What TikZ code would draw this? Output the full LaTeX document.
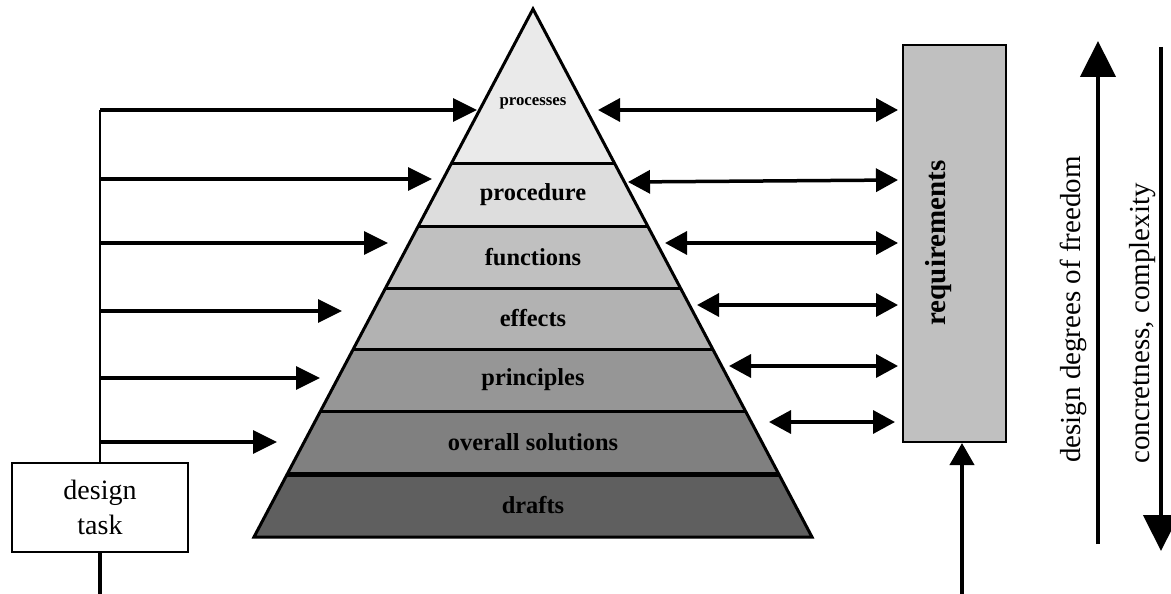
\documentclass[tikz,border=0pt]{standalone}
\usepackage{fontspec}
\setmainfont{Liberation Serif}
\usetikzlibrary{arrows.meta}
\definecolor{cA}{HTML}{EAEAEA}
\definecolor{cB}{HTML}{DDDDDD}
\definecolor{cC}{HTML}{C0C0C0}
\definecolor{cD}{HTML}{B2B2B2}
\definecolor{cE}{HTML}{969696}
\definecolor{cF}{HTML}{808080}
\definecolor{cG}{HTML}{5F5F5F}
\begin{document}
\begin{tikzpicture}[x=1pt,y=-1pt,
  harrow/.style={line width=3.5pt,-{Triangle[length=24pt,width=23pt]}},
  darrow/.style={line width=3.5pt,{Triangle[length=22pt,width=23pt]}-{Triangle[length=22pt,width=23pt]}},
  varrow/.style={line width=4.5pt,-{Triangle[length=36pt,width=35pt]}},
  uarrow/.style={line width=4pt,-{Triangle[length=22pt,width=24pt]}},
  layer/.style={inner sep=0pt,font=\bfseries\fontsize{24.4}{28}\selectfont},
  side/.style={inner sep=0pt,rotate=90,font=\fontsize{29}{34}\selectfont},
  sep/.style={line width=3pt}]
\useasboundingbox (0,0) rectangle (1171,594);
% pyramid layers
\fill[cA] (533,9) -- (614.4,163) -- (451.6,163) -- cycle;
\fill[cB] (451.6,163) -- (614.4,163) -- (647.7,226) -- (418.3,226) -- cycle;
\fill[cC] (418.3,226) -- (647.7,226) -- (680.4,288) -- (385.6,288) -- cycle;
\fill[cD] (385.6,288) -- (680.4,288) -- (712.7,349) -- (353.3,349) -- cycle;
\fill[cE] (353.3,349) -- (712.7,349) -- (745.4,411) -- (320.6,411) -- cycle;
\fill[cF] (320.6,411) -- (745.4,411) -- (778.7,474) -- (287.3,474) -- cycle;
\fill[cG] (287.3,474) -- (778.7,474) -- (812,537) -- (254,537) -- cycle;
\draw[sep] (451.6,163) -- (614.4,163);
\draw[sep] (418.3,226) -- (647.7,226);
\draw[sep] (385.6,288) -- (680.4,288);
\draw[sep] (353.3,349) -- (712.7,349);
\draw[sep] (320.6,411) -- (745.4,411);
\draw[line width=5pt] (287.3,474) -- (778.7,474);
\draw[line width=3pt,line join=miter] (533,9) -- (812,537) -- (254,537) -- cycle;
% layer labels
\node[layer,font=\bfseries\fontsize{16.8}{20}\selectfont] (l1) at (533,103) {processes};
\node[layer] (l2) at (533,195) {procedure};
\node[layer] (l3) at (533,257) {functions};
\node[layer] (l4) at (533,318.5) {effects};
\node[layer] (l5) at (533,380) {principles};
\node[layer] (l6) at (533,442.5) {overall solutions};
\node[layer] (l7) at (533,505.5) {drafts};
% design task
\node[draw,line width=1.5pt,minimum width=176pt,minimum height=89pt,inner sep=0pt,
      align=center,font=\fontsize{28}{35}\selectfont] (task) at (100,507.5) {design\\task};
\coordinate (ltop) at (100,110);
\coordinate (lbot) at (100,594);
\draw[line width=2pt] (ltop) -- (task.north);
\draw[line width=4pt] (task.south) -- (lbot);
\coordinate (s1) at (100,110); \coordinate (t1) at (477,110);
\coordinate (s2) at (100,179); \coordinate (t2) at (432,179);
\coordinate (s3) at (100,243); \coordinate (t3) at (388,243);
\coordinate (s4) at (100,311); \coordinate (t4) at (342,311);
\coordinate (s5) at (100,378); \coordinate (t5) at (320,378);
\coordinate (s6) at (100,442); \coordinate (t6) at (277,442);
\foreach \i in {1,...,6} \draw[harrow] (s\i) -- (t\i);
% requirements
\node[draw,fill=cC,line width=2pt,minimum width=103pt,minimum height=397pt,inner sep=0pt] (req) at (954.5,243.5) {};
\node[inner sep=0pt,rotate=90,font=\bfseries\fontsize{29}{34}\selectfont] (reqt) at (939,243) {requirements};
\coordinate (a1) at (598,110); \coordinate (b1) at (898,110);
\coordinate (a2) at (628,182); \coordinate (b2) at (898,180);
\coordinate (a3) at (665,243); \coordinate (b3) at (898,243);
\coordinate (a4) at (697,305); \coordinate (b4) at (898,305);
\coordinate (a5) at (729,366); \coordinate (b5) at (898,366);
\coordinate (a6) at (769,422); \coordinate (b6) at (895,422);
\foreach \i in {1,...,6} \draw[darrow] (a\i) -- (b\i);
\coordinate (rb) at (962,594);
\draw[uarrow] (rb) -- (962,443);
% right side
\coordinate (u0) at (1098,544); \coordinate (u1) at (1098,41);
\draw[varrow] (u0) -- (u1);
\coordinate (d0) at (1161,47); \coordinate (d1) at (1161,551);
\draw[varrow] (d0) -- (d1);
\node[side] (ft) at (1073,309.5) {design degrees of freedom};
\node[side] (ct) at (1143,323.5) {concretness, complexity};
\end{tikzpicture}
\end{document}
